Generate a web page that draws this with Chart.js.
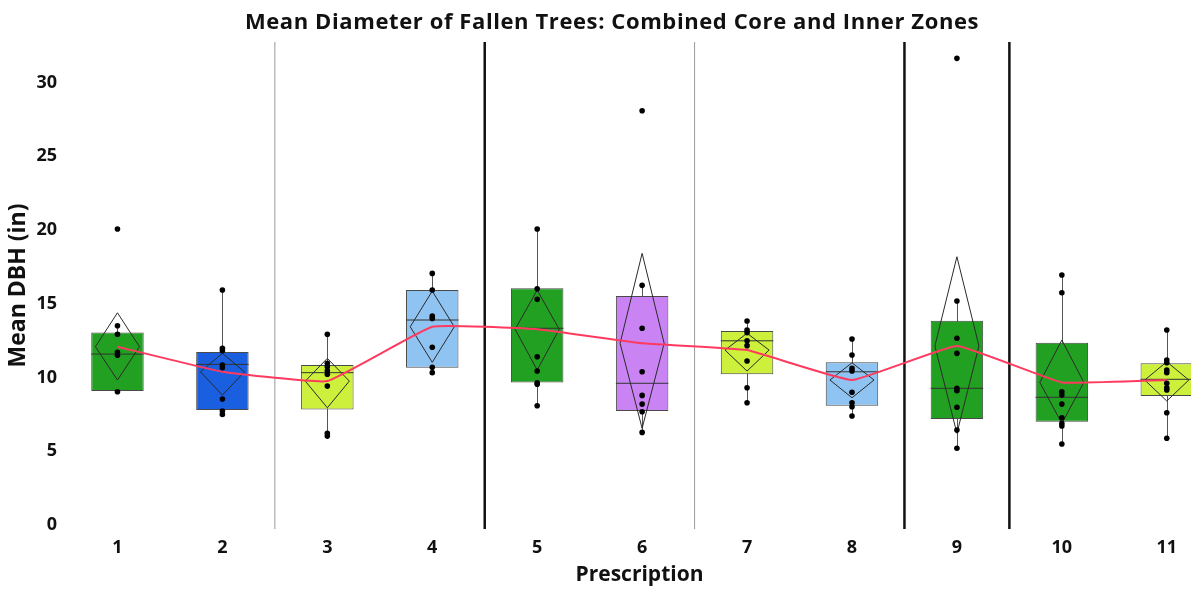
<!DOCTYPE html>
<html>
<head>
<meta charset="utf-8">
<script src="https://cdn.jsdelivr.net/npm/chart.js@4/dist/chart.umd.min.js"></script>
<style>
html,body{margin:0;padding:0;background:#fff;overflow:hidden;}
#wrap{width:1218px;height:592px;position:relative;}
</style>
</head>
<body>
<div id="wrap"><canvas id="c"></canvas></div>
<script>
const titleText = 'Mean Diameter of Fallen Trees: Combined Core and Inner Zones';
const categories = ['1','2','3','4','5','6','7','8','9','10','11'];
const yTicks = [0, 5, 10, 15, 20, 25, 30];

const q1       = [9.08, 7.80, 7.84, 10.66, 9.67, 7.73, 10.22, 8.09, 7.19, 7.00, 8.75];
const median   = [11.59, 10.89, 10.33, 13.90, 13.34, 9.61, 12.49, 10.39, 9.27, 8.66, 9.88];
const q3       = [13.06, 11.73, 10.85, 15.93, 16.05, 15.53, 13.15, 11.03, 13.85, 12.36, 10.96];
const whiskerLow  = [9.04, 7.50, 6.03, 10.33, 8.09, 6.28, 8.29, 7.39, 5.20, 5.49, 5.88];
const whiskerHigh = [13.51, 15.93, 12.93, 17.06, 20.07, 16.25, 13.83, 12.61, 15.19, 16.95, 13.22];
const means    = [12.09, 10.39, 9.76, 13.44, 13.27, 12.32, 11.86, 9.83, 12.14, 9.67, 9.83];
const ciHigh   = [14.39, 11.64, 11.30, 15.86, 15.93, 18.42, 13.00, 11.00, 18.19, 12.54, 11.07];
const ciLow    = [9.83, 8.81, 7.95, 11.03, 10.51, 6.56, 10.44, 8.63, 6.22, 6.89, 8.41];

const obs1  = [20.07, 13.51, 12.93, 11.71, 11.51, 9.04];
const obs2  = [15.93, 11.98, 11.82, 10.85, 10.66, 8.54, 7.73, 7.50];
const obs3  = [12.93, 10.96, 10.73, 10.46, 10.22, 9.42, 6.22, 6.03];
const obs4  = [17.06, 15.93, 14.17, 14.01, 12.05, 10.69, 10.33];
const obs5  = [20.07, 16.02, 15.30, 11.41, 10.44, 9.65, 9.54, 8.09];
const obs6  = [28.09, 16.25, 13.34, 10.39, 8.79, 8.20, 7.68, 6.28];
const obs7  = [13.83, 13.22, 13.04, 12.49, 12.16, 11.12, 9.31, 8.29];
const obs8  = [12.61, 11.53, 10.62, 10.44, 9.00, 8.29, 8.02, 7.39];
const obs9  = [31.64, 15.19, 12.66, 11.64, 9.27, 9.10, 7.98, 6.44, 5.20];
const obs10 = [16.95, 15.75, 9.04, 8.81, 8.20, 7.27, 6.89, 6.71, 5.49];
const obs11 = [13.22, 11.19, 11.00, 10.51, 10.33, 9.61, 9.31, 9.15, 7.61, 5.88];
const observations = [obs1, obs2, obs3, obs4, obs5, obs6, obs7, obs8, obs9, obs10, obs11];

// group dividers: placed after these prescriptions
const dividerAfter  = [2, 4, 6, 8, 9];
const dividerStrong = [false, true, false, true, true];

const GREEN = '#22a022', BLUE = '#1a5fe0', LIME = '#cdf03c', SKY = '#8fc3f2', VIOLET = '#c983f3';
const boxColors = [GREEN, BLUE, LIME, SKY, GREEN, VIOLET, LIME, SKY, GREEN, GREEN, LIME];

const FONT = '"Open Sans", "DejaVu Sans", sans-serif';

const boxData = categories.map((c, i) => ({x: i + 1, y: [q1[i], q3[i]]}));
const meanData = categories.map((c, i) => ({x: i + 1, y: means[i]}));
const pointData = [];
observations.forEach((arr, i) => arr.forEach(v => pointData.push({x: i + 1, y: v})));

const overlay = {
  id: 'overlay',
  beforeDatasetsDraw(chart) {
    const {ctx, chartArea, scales: {x, y}} = chart;
    ctx.save();
    dividerAfter.forEach((d, k) => {
      const px = x.getPixelForValue(d + 0.5);
      ctx.beginPath();
      ctx.strokeStyle = dividerStrong[k] ? '#111' : '#9a9a9a';
      ctx.lineWidth = dividerStrong[k] ? 2.5 : 1;
      ctx.moveTo(px, chartArea.top);
      ctx.lineTo(px, chartArea.bottom);
      ctx.stroke();
    });
    ctx.strokeStyle = '#555';
    ctx.lineWidth = 1;
    categories.forEach((c, i) => {
      const px = Math.round(x.getPixelForValue(i + 1)) + 0.5;
      ctx.beginPath();
      ctx.moveTo(px, y.getPixelForValue(whiskerLow[i]));
      ctx.lineTo(px, y.getPixelForValue(whiskerHigh[i]));
      ctx.stroke();
    });
    ctx.restore();
  },
  afterDatasetDraw(chart, args) {
    if (args.index !== 0) return;
    const {ctx, scales: {x, y}} = chart;
    const meta = chart.getDatasetMeta(0);
    const unit = x.getPixelForValue(2) - x.getPixelForValue(1);
    ctx.save();
    categories.forEach((c, i) => {
      const bar = meta.data[i];
      const cx = x.getPixelForValue(i + 1);
      const half = bar.width / 2;
      ctx.strokeStyle = '#333';
      ctx.lineWidth = 1;
      const my = y.getPixelForValue(median[i]);
      ctx.beginPath();
      ctx.moveTo(cx - half, my);
      ctx.lineTo(cx + half, my);
      ctx.stroke();
      const hw = unit * 0.21;
      const mY = y.getPixelForValue(means[i]);
      ctx.strokeStyle = '#2a2a2a';
      ctx.beginPath();
      ctx.moveTo(cx, y.getPixelForValue(ciHigh[i]));
      ctx.lineTo(cx + hw, mY);
      ctx.lineTo(cx, y.getPixelForValue(ciLow[i]));
      ctx.lineTo(cx - hw, mY);
      ctx.closePath();
      ctx.stroke();
    });
    ctx.restore();
  },
  afterDraw(chart) {
    const {ctx} = chart;
    ctx.save();
    ctx.font = 'bold 22px ' + FONT;
    try { ctx.letterSpacing = '0.6px'; } catch (e) {}
    ctx.fillStyle = '#111';
    ctx.textAlign = 'center';
    ctx.textBaseline = 'middle';
    ctx.fillText(titleText, chart.width / 2 + 3, 23);
    ctx.restore();
  }
};

new Chart(document.getElementById('c'), {
  type: 'bar',
  data: {
    datasets: [
      {
        type: 'bar',
        data: boxData,
        backgroundColor: boxColors,
        borderColor: '#4a4a4a',
        borderWidth: 1,
        borderSkipped: false,
        barPercentage: 0.5,
        categoryPercentage: 1,
        order: 3
      },
      {
        type: 'line',
        data: meanData,
        borderColor: '#ff3a5e',
        borderWidth: 2,
        pointRadius: 0,
        tension: 0.1,
        fill: false,
        order: 2
      },
      {
        type: 'scatter',
        data: pointData,
        backgroundColor: '#000',
        borderColor: '#000',
        pointRadius: 2.8,
        borderWidth: 0,
        order: 1
      }
    ]
  },
  options: {
    responsive: true,
    maintainAspectRatio: false,
    animation: false,
    layout: {padding: {top: 42, left: 0, right: 0, bottom: 0}},
    plugins: {
      legend: {display: false},
      title: {display: false},
      tooltip: {enabled: false}
    },
    scales: {
      x: {
        type: 'linear',
        offset: false,
        min: 0.5,
        max: 11.45,
        grid: {display: false, drawTicks: false, offset: false},
        border: {display: false},
        afterBuildTicks: s => { s.ticks = categories.map((c, i) => ({value: i + 1})); },
        afterFit: s => { s.height = 63; },
        ticks: {
          padding: 8,
          color: '#111',
          font: {family: FONT, size: 18, weight: 'bold'},
          callback: v => categories[Math.round(v) - 1]
        },
        title: {
          display: true,
          text: 'Prescription',
          color: '#111',
          font: {family: FONT, size: 21, weight: 'bold'},
          padding: {top: 2, bottom: 4}
        }
      },
      y: {
        min: -0.27,
        max: 32.75,
        beginAtZero: false,
        grid: {display: false, drawTicks: false},
        border: {display: false},
        afterBuildTicks: s => { s.ticks = yTicks.map(v => ({value: v})); },
        afterFit: s => { s.width = 65; },
        ticks: {
          padding: 8,
          color: '#111',
          font: {family: FONT, size: 18, weight: 'bold'}
        },
        title: {
          display: true,
          text: 'Mean DBH (in)',
          color: '#111',
          font: {family: FONT, size: 23, weight: 'bold'},
          padding: {top: 5, bottom: 0}
        }
      }
    }
  },
  plugins: [overlay]
});
</script>
</body>
</html>
